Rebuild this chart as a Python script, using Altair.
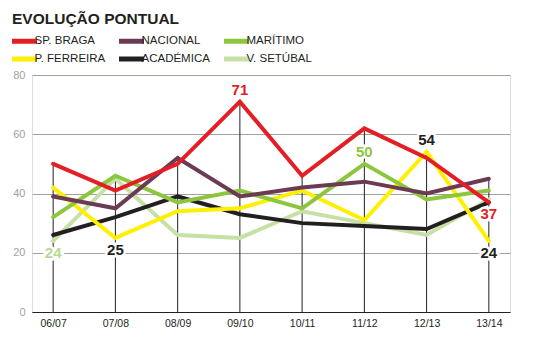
import altair as alt
import pandas as pd

seasons = ["06/07", "07/08", "08/09", "09/10", "10/11", "11/12", "12/13", "13/14"]

# legend order (Vega fills the 3-column legend column by column)
team_names = ["SP. BRAGA", "P. FERREIRA", "NACIONAL", "ACADÉMICA", "MARÍTIMO", "V. SETÚBAL"]
team_colors = ["#e31e24", "#fff000", "#6b3a53", "#231f20", "#8cc63f", "#c6e0a6"]

braga = [50, 41, 50, 71, 46, 62, 52, 37]
nacional = [39, 35, 52, 39, 42, 44, 40, 45]
maritimo = [32, 46, 37, 41, 35, 50, 38, 41]
ferreira = [42, 25, 34, 35, 41, 31, 54, 24]
academica = [26, 32, 39, 33, 30, 29, 28, 37]
setubal = [24, 45, 26, 25, 34, 30, 26, 38]

# labels drawn above / below points
above_season = ["09/10", "11/12", "12/13"]
above_value = [71, 50, 54]
above_color = ["#e31e24", "#8cc63f", "#231f20"]

below_season = ["06/07", "07/08", "13/14", "13/14"]
below_value = [24, 25, 37, 24]
below_color = ["#b9d99a", "#231f20", "#e31e24", "#231f20"]

series = {
    "SP. BRAGA": braga,
    "NACIONAL": nacional,
    "MARÍTIMO": maritimo,
    "P. FERREIRA": ferreira,
    "ACADÉMICA": academica,
    "V. SETÚBAL": setubal,
}
draw_order = ["V. SETÚBAL", "ACADÉMICA", "P. FERREIRA", "MARÍTIMO", "NACIONAL", "SP. BRAGA"]

rows = []
for name in draw_order:
    for s, v in zip(seasons, series[name]):
        rows.append({"season": s, "team": name, "value": v})
df = pd.DataFrame(rows)

above_df = pd.DataFrame({"season": above_season, "value": above_value,
                         "label": [str(v) for v in above_value], "col": above_color})
below_df = pd.DataFrame({"season": below_season, "value": below_value,
                         "label": [str(v) for v in below_value], "col": below_color})

FONT = "Liberation Sans"

x_enc = alt.X("season:N", sort=seasons,
              scale=alt.Scale(type="point", padding=0.34),
              axis=alt.Axis(title=None, labelAngle=0, ticks=False, domain=True,
                            domainColor="#231f20", domainWidth=1.2, grid=False,
                            labelColor="#231f20", labelFont=FONT, labelFontSize=10.5,
                            labelPadding=6))
y_scale = alt.Scale(domain=[0, 80])

rules = alt.Chart(df).mark_rule(color="#231f20", strokeWidth=1).encode(
    x=x_enc,
    y=alt.Y("max(value):Q", scale=y_scale,
            axis=alt.Axis(title=None, values=[0, 20, 40, 60, 80], ticks=False,
                          domain=False, grid=True, gridColor="#a3a298", gridWidth=1,
                          labelColor="#a3a298", labelFont=FONT, labelFontSize=11,
                          labelPadding=7)),
    y2=alt.datum(0),
)

legend_kwargs = dict(orient="none", legendX=-12.5, legendY=-41.5,
                     columns=3, title=None, symbolType="M-3,0H2",
                     symbolSize=100, symbolStrokeWidth=5,
                     labelFont=FONT, labelFontSize=11.5,
                     labelColor="#231f20",
                     columnPadding=3, labelOffset=0, padding=0)
try:
    legend = alt.Legend(rowPadding=-9, **legend_kwargs)
except Exception:
    legend = alt.Legend(rowPadding=0, **legend_kwargs)

lines = alt.Chart(df).mark_line(strokeWidth=4, strokeCap="round", strokeJoin="miter").encode(
    x=alt.X("season:N", sort=seasons),
    y=alt.Y("value:Q", scale=y_scale),
    color=alt.Color("team:N", scale=alt.Scale(domain=team_names, range=team_colors),
                    legend=legend),
    detail="team:N",
)


def label_layers(d, dy):
    halo = alt.Chart(d).mark_text(fontSize=15, fontWeight="bold", font=FONT, dy=dy,
                                  baseline="middle", fill="white", stroke="white",
                                  strokeWidth=5).encode(
        x=alt.X("season:N", sort=seasons),
        y=alt.Y("value:Q", scale=y_scale),
        text="label:N",
    )
    txt = alt.Chart(d).mark_text(fontSize=15, fontWeight="bold", font=FONT, dy=dy,
                                 baseline="middle").encode(
        x=alt.X("season:N", sort=seasons),
        y=alt.Y("value:Q", scale=y_scale),
        text="label:N",
        color=alt.Color("col:N", scale=None),
    )
    return halo, txt


ah, at = label_layers(above_df, -12)
bh, bt = label_layers(below_df, 12)

chart = alt.layer(rules, lines, ah, bh, at, bt).properties(
    width=478, height=237,
    title=alt.TitleParams("EVOLUÇÃO PONTUAL", anchor="start", frame="group", dx=-20,
                          offset=6.5, font=FONT, fontSize=15.5, fontWeight="bold",
                          color="#231f20"),
    autosize=alt.AutoSizeParams(type="none"),
    padding={"left": 32, "top": 75, "right": 28, "bottom": 41},
).configure_view(stroke=None).configure(background="white")

chart.save("out.html", embed_options={"renderer": "svg", "actions": False})
